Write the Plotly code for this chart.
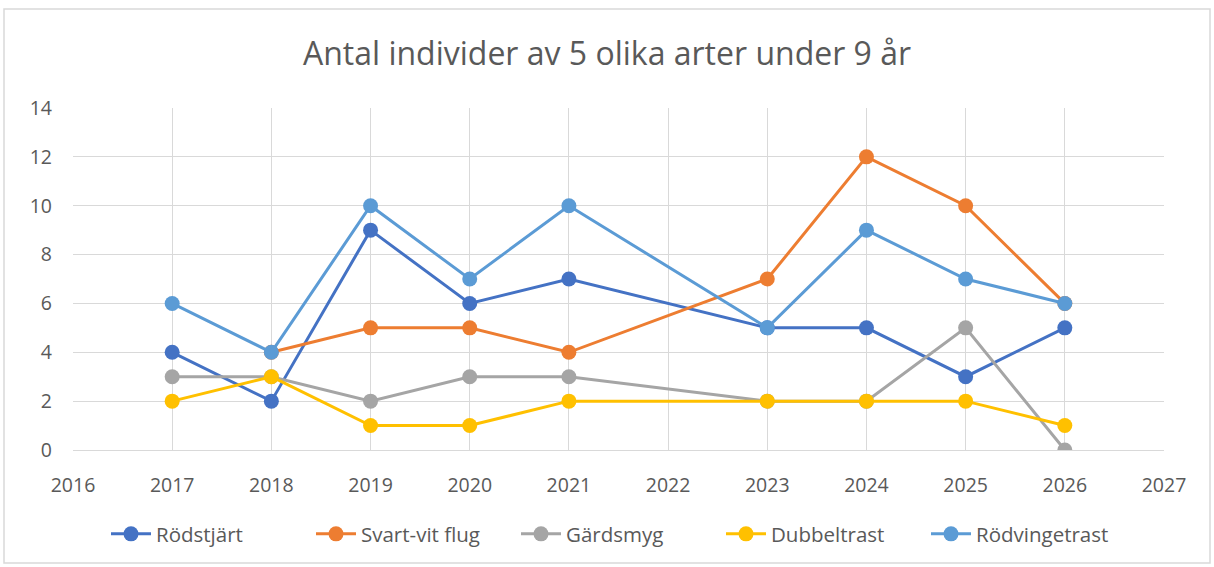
import plotly.graph_objects as go

years = [2017, 2018, 2019, 2020, 2021, 2023, 2024, 2025, 2026]
rodstjart = [4, 2, 9, 6, 7, 5, 5, 3, 5]
svartvit = [None, 4, 5, 5, 4, 7, 12, 10, 6]
gardsmyg = [3, 3, 2, 3, 3, 2, 2, 5, 0]
dubbeltrast = [2, 3, 1, 1, 2, 2, 2, 2, 1]
rodvingetrast = [6, 4, 10, 7, 10, 5, 9, 7, 6]

names = ["Rödstjärt", "Svart-vit flug", "Gärdsmyg", "Dubbeltrast", "Rödvingetrast"]
series = [rodstjart, svartvit, gardsmyg, dubbeltrast, rodvingetrast]
colors = ["#4472C4", "#ED7D31", "#A5A5A5", "#FFC000", "#5B9BD5"]

fig = go.Figure()
for n, s, c in zip(names, series, colors):
    fig.add_trace(go.Scatter(x=years, y=s, name=n, mode="lines+markers",
                             line=dict(color=c, width=3),
                             marker=dict(color=c, size=15),
                             connectgaps=False))

W, H = 1214, 567
L, R, T, B = 73, 50, 108, 117
pw, ph = W - L - R, H - T - B

def px(x):
    return (x - L) / pw

def py(y):
    return (H - B - y) / ph

fig.update_layout(
    width=W, height=H,
    margin=dict(l=L, r=R, t=T, b=B, autoexpand=False),
    paper_bgcolor="white", plot_bgcolor="white",
    font=dict(family="Open Sans, Liberation Sans, sans-serif", color="#595959", size=19),
    title=dict(text="Antal individer av 5 olika arter under 9 år", x=0.5, xanchor="center",
               y=1 - 54 / H, yanchor="middle",
               font=dict(size=32, color="#595959")),
    xaxis=dict(range=[2016, 2027], tickmode="linear", tick0=2016, dtick=1,
               showgrid=True, gridcolor="#D9D9D9", gridwidth=1, zeroline=False,
               showline=True, linecolor="#D9D9D9", ticks="", tickfont=dict(size=19.5),
               ticklabelstandoff=18),
    yaxis=dict(range=[0, 14], tickmode="linear", tick0=0, dtick=2,
               showgrid=True, gridcolor="#D9D9D9", gridwidth=1, zeroline=False,
               showline=False, ticks="", tickfont=dict(size=19.5), ticklabelstandoff=20),
    legend=dict(orientation="h", x=0.5, xanchor="center", y=py(534), yanchor="middle",
                font=dict(size=20.5, color="#595959"), itemwidth=40, traceorder="normal",
                entrywidth=150, entrywidthmode="pixels"),
    showlegend=True,
    shapes=[dict(type="rect", xref="paper", yref="paper",
                 x0=px(4), x1=px(1210), y0=py(563), y1=py(9),
                 line=dict(color="#D9D9D9", width=1.5), layer="below")],
)

fig.write_html("out.html", config={"displayModeBar": False},
               post_script="document.body.style.margin='0';document.body.style.overflow='hidden';")
